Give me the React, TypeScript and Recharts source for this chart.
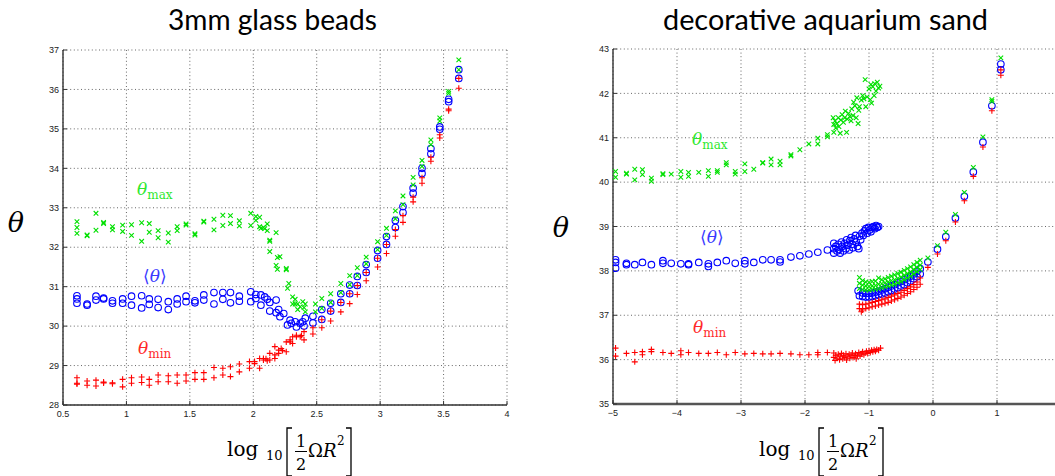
import React from "react";
import { ScatterChart, Scatter, XAxis, YAxis, CartesianGrid } from "recharts";

const GREEN = "#00e000";
const BLUE = "#0000ff";
const RED = "#ff0000";
const GREEN_TEXT = "#2ee82e";
const BLUE_TEXT = "#3a3aff";
const RED_TEXT = "#ff2a2a";

type Pt = [number, number];

// ---- 3mm glass beads ----
const beadsXTicks = [0.5, 1, 1.5, 2, 2.5, 3, 3.5, 4];
const beadsYTicks = [28, 29, 30, 31, 32, 33, 34, 35, 36, 37];

const beadsMax: Pt[] = [
  [0.61, 32.65], [0.61, 32.5], [0.61, 32.35], [0.69, 32.31], [0.69, 32.29],
  [0.76, 32.86], [0.76, 32.43], [0.82, 32.63], [0.82, 32.6], [0.89, 32.52],
  [0.89, 32.44], [0.97, 32.56], [0.97, 32.4], [1.04, 32.57], [1.04, 32.3],
  [1.12, 32.62], [1.12, 32.15], [1.18, 32.6], [1.18, 32.38], [1.25, 32.42],
  [1.25, 32.24], [1.33, 32.36], [1.33, 32.13], [1.4, 32.52], [1.4, 32.42],
  [1.47, 32.59], [1.47, 32.56], [1.54, 32.34], [1.54, 32.31], [1.61, 32.66],
  [1.61, 32.64], [1.69, 32.71], [1.69, 32.44], [1.76, 32.81], [1.76, 32.55],
  [1.82, 32.8], [1.82, 32.6], [1.89, 32.67], [1.89, 32.54], [1.98, 32.86],
  [1.98, 32.55], [2.02, 32.78], [2.02, 32.68], [2.05, 32.76], [2.05, 32.52],
  [2.06, 32.48], [2.08, 32.5], [2.09, 32.47], [2.11, 32.59], [2.11, 32.42],
  [2.13, 32.18], [2.13, 32.15], [2.13, 31.89], [2.18, 32.37], [2.18, 31.54],
  [2.19, 31.44], [2.19, 31.74], [2.21, 31.76], [2.26, 31.46], [2.26, 31.43],
  [2.27, 30.96], [2.28, 31.08], [2.31, 30.74], [2.31, 30.56], [2.33, 30.68],
  [2.33, 30.56], [2.35, 30.56], [2.35, 30.42], [2.37, 30.49], [2.39, 30.62],
  [2.4, 30.47], [2.41, 30.56], [2.41, 30.36], [2.49, 30.56], [2.49, 30.36],
];
const beadsMaxRise: Pt[] = [
  [2.54, 30.7], [2.54, 30.45], [2.61, 30.82], [2.61, 30.6], [2.69, 31.08],
  [2.69, 30.85], [2.76, 31.28], [2.76, 31.05], [2.82, 31.48], [2.82, 31.28],
  [2.89, 31.75], [2.89, 31.58], [2.98, 32.14], [2.98, 31.94], [3.05, 32.48],
  [3.05, 32.3], [3.12, 32.92], [3.12, 32.72], [3.18, 33.3], [3.18, 33.08],
  [3.26, 33.77], [3.26, 33.58], [3.33, 34.2], [3.33, 34.05], [3.4, 34.72],
  [3.4, 34.6], [3.47, 35.28], [3.47, 35.2], [3.54, 35.95], [3.54, 35.9],
  [3.62, 36.75], [3.62, 36.5],
];

const beadsMean: Pt[] = [
  [0.61, 30.77], [0.61, 30.69], [0.61, 30.58], [0.69, 30.56], [0.69, 30.53],
  [0.76, 30.76], [0.76, 30.66], [0.82, 30.71], [0.82, 30.69], [0.89, 30.64],
  [0.89, 30.58], [0.97, 30.69], [0.97, 30.58], [1.04, 30.76], [1.04, 30.53],
  [1.12, 30.77], [1.12, 30.46], [1.18, 30.69], [1.18, 30.55], [1.25, 30.68],
  [1.25, 30.47], [1.33, 30.62], [1.33, 30.42], [1.4, 30.69], [1.4, 30.56],
  [1.47, 30.76], [1.47, 30.62], [1.54, 30.64], [1.54, 30.59], [1.61, 30.79],
  [1.61, 30.66], [1.69, 30.85], [1.69, 30.56], [1.76, 30.85], [1.76, 30.68],
  [1.82, 30.85], [1.82, 30.59], [1.89, 30.76], [1.89, 30.63], [1.98, 30.87],
  [1.98, 30.62], [2.02, 30.8], [2.02, 30.7], [2.06, 30.79], [2.06, 30.53],
  [2.09, 30.74], [2.11, 30.68], [2.13, 30.38], [2.13, 30.6], [2.18, 30.66],
  [2.18, 30.34], [2.2, 30.42], [2.21, 30.24], [2.24, 30.32], [2.27, 30.03],
  [2.29, 30.15], [2.3, 30.07], [2.33, 30.11], [2.34, 29.98], [2.37, 30.07],
  [2.39, 30.11], [2.4, 30.0], [2.41, 30.2], [2.47, 30.25], [2.47, 30.08],
];
const beadsMeanRise: Pt[] = [
  [2.54, 30.42], [2.54, 30.17], [2.61, 30.58], [2.61, 30.38], [2.69, 30.82],
  [2.69, 30.6], [2.76, 31.04], [2.76, 30.82], [2.82, 31.26], [2.82, 31.03],
  [2.89, 31.56], [2.89, 31.36], [2.98, 31.92], [2.98, 31.72], [3.05, 32.27],
  [3.05, 32.07], [3.12, 32.68], [3.12, 32.5], [3.18, 33.03], [3.18, 32.88],
  [3.26, 33.5], [3.26, 33.37], [3.33, 34.0], [3.33, 33.87], [3.4, 34.5],
  [3.4, 34.37], [3.47, 35.05], [3.47, 34.99], [3.54, 35.75], [3.54, 35.69],
  [3.62, 36.5], [3.62, 36.28],
];

const beadsMin: Pt[] = [
  [0.61, 28.69], [0.61, 28.55], [0.61, 28.53], [0.69, 28.61], [0.69, 28.5],
  [0.76, 28.63], [0.76, 28.48], [0.82, 28.58], [0.82, 28.56], [0.89, 28.56],
  [0.89, 28.54], [0.97, 28.65], [0.97, 28.46], [1.04, 28.69], [1.04, 28.55],
  [1.12, 28.71], [1.12, 28.57], [1.18, 28.65], [1.18, 28.5], [1.25, 28.76],
  [1.25, 28.59], [1.33, 28.74], [1.33, 28.59], [1.4, 28.76], [1.4, 28.55],
  [1.47, 28.76], [1.47, 28.61], [1.54, 28.82], [1.54, 28.65], [1.61, 28.82],
  [1.61, 28.65], [1.69, 28.95], [1.69, 28.69], [1.76, 28.93], [1.76, 28.76],
  [1.82, 28.97], [1.82, 28.72], [1.89, 29.04], [1.89, 28.84], [1.97, 29.1],
  [1.97, 28.93], [2.01, 29.1], [2.01, 29.05], [2.05, 29.18], [2.05, 28.93],
  [2.08, 29.18], [2.08, 29.14], [2.1, 29.17], [2.11, 29.12], [2.13, 29.31],
  [2.13, 29.14], [2.17, 29.48], [2.17, 29.27], [2.17, 29.18], [2.2, 29.39],
  [2.2, 29.31], [2.22, 29.43], [2.23, 29.38], [2.26, 29.6], [2.26, 29.35],
  [2.29, 29.65], [2.29, 29.6], [2.31, 29.73], [2.31, 29.56], [2.34, 29.77],
  [2.34, 29.73], [2.37, 29.73], [2.38, 29.76], [2.4, 29.86], [2.4, 29.65],
];
const beadsMinRise: Pt[] = [
  [2.47, 29.96], [2.47, 29.8], [2.54, 30.16], [2.54, 29.96], [2.61, 30.38],
  [2.61, 30.13], [2.69, 30.6], [2.69, 30.36], [2.76, 30.82], [2.76, 30.57],
  [2.82, 31.03], [2.82, 30.8], [2.89, 31.36], [2.89, 31.15], [2.98, 31.72],
  [2.98, 31.5], [3.05, 32.07], [3.05, 31.84], [3.12, 32.45], [3.12, 32.28],
  [3.18, 32.8], [3.18, 32.63], [3.26, 33.27], [3.26, 33.15], [3.33, 33.76],
  [3.33, 33.62], [3.4, 34.28], [3.4, 34.18], [3.47, 34.85], [3.47, 34.77],
  [3.54, 35.5], [3.54, 35.46], [3.62, 36.28], [3.62, 36.03],
];

// ---- decorative aquarium sand ----
// the axis runs on to 2, just past the picture's right edge
const sandXTicks = [-5, -4, -3, -2, -1, 0, 1];
const sandYTicks = [35, 36, 37, 38, 39, 40, 41, 42, 43];

const sandMaxSlow: Pt[] = [
  [-4.96, 40.24], [-4.96, 40.11], [-4.79, 40.2], [-4.79, 40.18], [-4.66, 40.29],
  [-4.66, 40.05], [-4.54, 40.28], [-4.54, 40.17], [-4.4, 40.09], [-4.4, 40.02],
  [-4.22, 40.19], [-4.22, 40.17], [-4.09, 40.18], [-3.94, 40.24], [-3.94, 40.11],
  [-3.82, 40.22], [-3.82, 40.13], [-3.66, 40.22], [-3.51, 40.26], [-3.51, 40.13],
  [-3.37, 40.26], [-3.37, 40.22], [-3.23, 40.44], [-3.23, 40.39], [-3.09, 40.24],
  [-3.09, 40.18], [-2.94, 40.41], [-2.94, 40.24], [-2.8, 40.29], [-2.66, 40.44],
  [-2.66, 40.43], [-2.53, 40.52], [-2.53, 40.39], [-2.39, 40.47], [-2.39, 40.39],
  [-2.22, 40.62], [-2.22, 40.59], [-2.08, 40.73], [-1.94, 40.86], [-1.8, 40.99],
  [-1.8, 40.86], [-1.65, 41.07], [-1.65, 41.02],
];
const sandMaxCluster: Pt[] = [
  [-1.56, 41.45], [-1.55, 41.3], [-1.55, 41.12], [-1.53, 41.38], [-1.52, 41.22],
  [-1.5, 41.32], [-1.48, 41.45], [-1.47, 41.25], [-1.45, 41.1], [-1.44, 41.4],
  [-1.42, 41.52], [-1.4, 41.35], [-1.38, 41.45], [-1.37, 41.6], [-1.35, 41.12],
  [-1.34, 41.42], [-1.32, 41.55], [-1.3, 41.48], [-1.28, 41.38], [-1.27, 41.65],
  [-1.25, 41.5], [-1.24, 41.8], [-1.22, 41.72], [-1.2, 41.45], [-1.19, 41.9],
  [-1.17, 41.32], [-1.16, 41.62], [-1.15, 41.7], [-1.12, 41.85], [-1.1, 41.95],
  [-1.08, 41.88], [-1.06, 42.31], [-1.05, 41.7], [-1.03, 41.92], [-1.0, 42.1],
  [-0.98, 41.86], [-0.97, 42.2], [-0.96, 41.78], [-0.94, 42.15], [-0.92, 41.95],
  [-0.91, 42.22], [-0.89, 42.05], [-0.87, 42.25], [-0.85, 42.12], [-0.83, 42.16],
];
const sandMaxBand: Pt[] = [
  [-1.15, 37.85], [-1.15, 37.72], [-1.15, 37.6], [-1.1, 37.78], [-1.1, 37.68],
  [-1.1, 37.58], [-1.05, 37.75], [-1.05, 37.66], [-1.05, 37.57], [-1.0, 37.74],
  [-1.0, 37.65], [-1.0, 37.57], [-0.95, 37.76], [-0.95, 37.66], [-0.95, 37.58],
  [-0.9, 37.77], [-0.9, 37.67], [-0.9, 37.59], [-0.85, 37.84], [-0.85, 37.7],
  [-0.85, 37.6], [-0.8, 37.8], [-0.8, 37.71], [-0.8, 37.62], [-0.75, 37.82],
  [-0.75, 37.73], [-0.75, 37.64], [-0.7, 37.85], [-0.7, 37.75], [-0.7, 37.66],
  [-0.65, 37.88], [-0.65, 37.78], [-0.65, 37.68], [-0.6, 37.91], [-0.6, 37.8],
  [-0.6, 37.7], [-0.55, 37.94], [-0.55, 37.83], [-0.55, 37.73], [-0.5, 37.97],
  [-0.5, 37.86], [-0.5, 37.76], [-0.45, 38.01], [-0.45, 37.9], [-0.45, 37.8],
  [-0.4, 38.05], [-0.4, 37.94], [-0.4, 37.84], [-0.35, 38.09], [-0.35, 37.98],
  [-0.35, 37.88], [-0.3, 38.14], [-0.3, 38.03], [-0.3, 37.93], [-0.25, 38.19],
  [-0.25, 38.08], [-0.25, 37.98], [-0.2, 38.24], [-0.2, 38.13], [-0.2, 38.03],
];
const sandMaxFast: Pt[] = [
  [-0.08, 38.29], [0.07, 38.57], [0.2, 38.87], [0.35, 39.27], [0.49, 39.77],
  [0.63, 40.33], [0.78, 41.02], [0.92, 41.86], [0.92, 41.82], [1.06, 42.8],
];

const sandMeanSlow: Pt[] = [
  [-4.96, 38.25], [-4.96, 38.19], [-4.96, 38.06], [-4.79, 38.17], [-4.79, 38.14],
  [-4.66, 38.14], [-4.54, 38.19], [-4.4, 38.14], [-4.22, 38.23], [-4.22, 38.17],
  [-4.09, 38.17], [-3.94, 38.16], [-3.82, 38.16], [-3.82, 38.14], [-3.66, 38.19],
  [-3.51, 38.16], [-3.51, 38.1], [-3.37, 38.19], [-3.23, 38.23], [-3.09, 38.17],
  [-2.94, 38.23], [-2.94, 38.16], [-2.8, 38.19], [-2.66, 38.25], [-2.53, 38.25],
  [-2.39, 38.25], [-2.39, 38.2], [-2.22, 38.31], [-2.08, 38.34], [-1.94, 38.38],
  [-1.8, 38.42], [-1.65, 38.47],
];
const sandMeanCluster: Pt[] = [
  [-1.55, 38.62], [-1.55, 38.5], [-1.55, 38.4], [-1.52, 38.55], [-1.5, 38.45],
  [-1.48, 38.6], [-1.47, 38.48], [-1.45, 38.4], [-1.43, 38.65], [-1.42, 38.55],
  [-1.4, 38.45], [-1.38, 38.62], [-1.36, 38.5], [-1.35, 38.7], [-1.33, 38.58],
  [-1.31, 38.47], [-1.3, 38.68], [-1.28, 38.75], [-1.26, 38.6], [-1.25, 38.52],
  [-1.23, 38.72], [-1.21, 38.8], [-1.2, 38.65], [-1.18, 38.55], [-1.16, 38.5],
  [-1.15, 38.78], [-1.13, 38.7], [-1.11, 38.85], [-1.09, 38.8], [-1.07, 38.9],
  [-1.05, 38.95], [-1.03, 38.85], [-1.01, 38.98], [-0.99, 38.92], [-0.97, 38.88],
  [-0.95, 38.98], [-0.93, 39.0], [-0.91, 38.95], [-0.89, 39.02], [-0.87, 38.98],
  [-0.85, 39.0],
];
const sandMeanBand: Pt[] = [
  [-1.17, 37.55], [-1.15, 37.44], [-1.1, 37.5], [-1.1, 37.42], [-1.05, 37.49],
  [-1.05, 37.41], [-1.0, 37.49], [-1.0, 37.41], [-0.95, 37.5], [-0.95, 37.42],
  [-0.9, 37.52], [-0.9, 37.44], [-0.85, 37.54], [-0.85, 37.46], [-0.8, 37.57],
  [-0.8, 37.48], [-0.75, 37.6], [-0.75, 37.5], [-0.7, 37.63], [-0.7, 37.53],
  [-0.65, 37.66], [-0.65, 37.56], [-0.6, 37.69], [-0.6, 37.59], [-0.55, 37.73],
  [-0.55, 37.62], [-0.5, 37.76], [-0.5, 37.66], [-0.45, 37.8], [-0.45, 37.69],
  [-0.4, 37.84], [-0.4, 37.73], [-0.35, 37.88], [-0.35, 37.77], [-0.3, 37.93],
  [-0.3, 37.82], [-0.25, 37.99], [-0.25, 37.87], [-0.2, 38.05], [-0.2, 37.93],
];
const sandMeanFast: Pt[] = [
  [-0.08, 38.2], [0.07, 38.49], [0.2, 38.77], [0.35, 39.19], [0.49, 39.68],
  [0.63, 40.23], [0.78, 40.9], [0.92, 41.72], [1.06, 42.66], [1.06, 42.53],
];

const sandMinSlow: Pt[] = [
  [-4.96, 36.26], [-4.96, 36.08], [-4.79, 36.14], [-4.66, 36.16], [-4.66, 35.95],
  [-4.54, 36.18], [-4.54, 36.11], [-4.4, 36.23], [-4.4, 36.18], [-4.22, 36.16],
  [-4.09, 36.14], [-3.94, 36.2], [-3.94, 36.11], [-3.82, 36.16], [-3.66, 36.14],
  [-3.51, 36.14], [-3.37, 36.16], [-3.23, 36.11], [-3.09, 36.16], [-2.94, 36.13],
  [-2.8, 36.14], [-2.66, 36.13], [-2.53, 36.13], [-2.39, 36.14], [-2.22, 36.13],
  [-2.08, 36.11], [-1.94, 36.11], [-1.8, 36.16], [-1.8, 36.11], [-1.65, 36.16],
];
const sandMinCluster: Pt[] = [
  [-1.55, 36.15], [-1.55, 36.05], [-1.53, 35.98], [-1.52, 36.1], [-1.5, 36.03],
  [-1.48, 36.12], [-1.46, 36.0], [-1.45, 36.08], [-1.43, 36.14], [-1.41, 36.02],
  [-1.4, 36.1], [-1.38, 36.05], [-1.36, 36.13], [-1.35, 35.99], [-1.33, 36.08],
  [-1.31, 36.12], [-1.3, 36.03], [-1.28, 36.1], [-1.26, 36.15], [-1.25, 36.05],
  [-1.23, 36.09], [-1.21, 36.13], [-1.2, 36.02], [-1.18, 36.1], [-1.16, 36.16],
  [-1.14, 36.08], [-1.12, 36.13], [-1.1, 36.18], [-1.08, 36.11], [-1.06, 36.15],
  [-1.04, 36.19], [-1.02, 36.14], [-1.0, 36.2], [-0.98, 36.16], [-0.96, 36.21],
  [-0.94, 36.18], [-0.92, 36.22], [-0.9, 36.19], [-0.88, 36.23], [-0.85, 36.21],
  [-0.82, 36.26],
];
const sandMinBand: Pt[] = [
  [-1.15, 37.25], [-1.15, 37.15], [-1.12, 37.08], [-1.1, 37.24], [-1.1, 37.12],
  [-1.05, 37.25], [-1.05, 37.15], [-1.0, 37.27], [-1.0, 37.17], [-0.95, 37.29],
  [-0.95, 37.19], [-0.9, 37.31], [-0.9, 37.21], [-0.85, 37.33], [-0.85, 37.23],
  [-0.8, 37.35], [-0.8, 37.25], [-0.75, 37.37], [-0.75, 37.27], [-0.7, 37.4],
  [-0.7, 37.29], [-0.65, 37.43], [-0.65, 37.32], [-0.6, 37.46], [-0.6, 37.35],
  [-0.55, 37.49], [-0.55, 37.38], [-0.5, 37.52], [-0.5, 37.41], [-0.45, 37.56],
  [-0.45, 37.45], [-0.4, 37.6], [-0.4, 37.49], [-0.35, 37.64], [-0.35, 37.53],
  [-0.3, 37.69], [-0.3, 37.58], [-0.25, 37.75], [-0.25, 37.63], [-0.2, 37.84],
  [-0.2, 37.7],
];
const sandMinFast: Pt[] = [
  [-0.08, 38.08], [0.07, 38.38], [0.2, 38.68], [0.35, 39.1], [0.49, 39.58],
  [0.63, 40.13], [0.78, 40.79], [0.92, 41.61], [1.06, 42.53], [1.06, 42.41],
];

const toXY = (...parts: Pt[][]) =>
  parts.flat().map(([x, y]) => ({ x, y }));

// MATLAB style markers
function XMark(props: any) {
  const { cx, cy } = props;
  const s = 2.3;
  return (
    <path
      d={`M${cx - s},${cy - s}L${cx + s},${cy + s}M${cx - s},${cy + s}L${cx + s},${cy - s}`}
      stroke={GREEN}
      strokeWidth={1.1}
      fill="none"
    />
  );
}

function OMark(props: any) {
  const { cx, cy } = props;
  return <circle cx={cx} cy={cy} r={3.3} stroke={BLUE} strokeWidth={1.1} fill="none" />;
}

function PlusMark(props: any) {
  const { cx, cy } = props;
  const s = 3;
  return (
    <path
      d={`M${cx - s},${cy}L${cx + s},${cy}M${cx},${cy - s}L${cx},${cy + s}`}
      stroke={RED}
      strokeWidth={1.1}
      fill="none"
    />
  );
}

const tickStyle = { fontSize: 9, fill: "#222", fontFamily: "'Liberation Sans', Arial, sans-serif" };
const minusFmt = (v: number) => (v < 0 ? `\u2212${-v}` : `${v}`);

function XLabel({ dx }: { dx: number }) {
  const serif = "'DejaVu Serif', 'Liberation Serif', serif";
  return (
    <g transform={`translate(${dx},0)`} fontFamily={serif} fill="#000">
      <text x={227} y={456} fontSize={20}>log</text>
      <text x={266} y={460} fontSize={13}>10</text>
      <path d="M292,428H287V476H292" stroke="#000" strokeWidth={1.3} fill="none" />
      <text x={301} y={447} fontSize={16} textAnchor="middle">1</text>
      <line x1={295} x2={307} y1={451.5} y2={451.5} stroke="#000" strokeWidth={1} />
      <text x={301} y={470} fontSize={16} textAnchor="middle">2</text>
      <text x={308} y={457} fontSize={18}>
        Ω<tspan fontStyle="italic">R</tspan>
      </text>
      <text x={337} y={445} fontSize={12}>2</text>
      <path d="M346,428H351V476H346" stroke="#000" strokeWidth={1.3} fill="none" />
    </g>
  );
}

function Annot({ x, y, sub, color }: { x: number; y: number; sub?: string; color: string }) {
  const serif = "'DejaVu Serif', 'Liberation Serif', serif";
  if (!sub) {
    return (
      <text x={x} y={y} fill={color} fontFamily={serif} fontSize={17}>
        ⟨<tspan fontStyle="italic">θ</tspan>⟩
      </text>
    );
  }
  return (
    <text x={x} y={y} fill={color} fontFamily={serif} fontSize={17}>
      <tspan fontStyle="italic">θ</tspan>
      <tspan fontSize={12} dy={4}>{sub}</tspan>
    </text>
  );
}

export default function App() {
  const gridProps = { stroke: "#666", strokeDasharray: "1 2.6" };
  const axisLine = { stroke: "#333", strokeWidth: 1.4 };
  const tickLine = { stroke: "#333" };

  return (
    <div
      style={{
        position: "fixed",
        left: 0,
        top: 0,
        width: 1055,
        height: 476,
        overflow: "hidden",
        background: "#fff",
      }}
    >
      <div style={{ position: "absolute", left: 0, top: 0 }}>
        <ScatterChart width={530} height={476} margin={{ top: 50, right: 23, bottom: 0, left: 0 }}>
          <CartesianGrid {...gridProps} />
          <XAxis
            type="number"
            dataKey="x"
            domain={[0.5, 4]}
            ticks={beadsXTicks}
            height={71}
            tickSize={-4}
            tickMargin={10}
            tick={tickStyle}
            axisLine={axisLine}
            tickLine={tickLine}
            allowDataOverflow
          />
          <YAxis
            type="number"
            dataKey="y"
            domain={[28, 37]}
            ticks={beadsYTicks}
            width={63}
            tickSize={-4}
            tickMargin={8}
            tick={tickStyle}
            axisLine={axisLine}
            tickLine={tickLine}
            allowDataOverflow
          />
          <Scatter data={toXY(beadsMean, beadsMeanRise)} shape={OMark} isAnimationActive={false} />
          <Scatter data={toXY(beadsMax, beadsMaxRise)} shape={XMark} isAnimationActive={false} />
          <Scatter data={toXY(beadsMin, beadsMinRise)} shape={PlusMark} isAnimationActive={false} />
        </ScatterChart>
      </div>

      <div style={{ position: "absolute", left: 530, top: 0 }}>
        <ScatterChart width={541} height={476} margin={{ top: 49, right: 10, bottom: 0, left: 0 }}>
          <CartesianGrid {...gridProps} />
          <XAxis
            type="number"
            dataKey="x"
            domain={[-5, 2]}
            ticks={sandXTicks}
            tickFormatter={minusFmt}
            height={72}
            tickSize={-4}
            tickMargin={10}
            tick={tickStyle}
            axisLine={{ stroke: "#555", strokeWidth: 2.6 }}
            tickLine={tickLine}
            allowDataOverflow
          />
          <YAxis
            type="number"
            dataKey="y"
            domain={[35, 43]}
            ticks={sandYTicks}
            width={83}
            tickSize={-4}
            tickMargin={8}
            tick={tickStyle}
            axisLine={axisLine}
            tickLine={tickLine}
            allowDataOverflow
          />
          <Scatter
            data={toXY(sandMeanSlow, sandMeanCluster, sandMeanBand, sandMeanFast)}
            shape={OMark}
            isAnimationActive={false}
          />
          <Scatter
            data={toXY(sandMaxSlow, sandMaxCluster, sandMaxBand, sandMaxFast)}
            shape={XMark}
            isAnimationActive={false}
          />
          <Scatter
            data={toXY(sandMinSlow, sandMinCluster, sandMinBand, sandMinFast)}
            shape={PlusMark}
            isAnimationActive={false}
          />
        </ScatterChart>
      </div>

      <svg
        width={1055}
        height={476}
        style={{ position: "absolute", left: 0, top: 0, pointerEvents: "none" }}
      >
        <g fontFamily="Lato, 'Open Sans', sans-serif" fontSize={29} fill="#000">
          <text x={168} y={30} textLength={209} lengthAdjust="spacingAndGlyphs">
            3mm glass beads
          </text>
          <text x={663} y={30} textLength={325} lengthAdjust="spacingAndGlyphs">
            decorative aquarium sand
          </text>
        </g>
        <g fontFamily="'DejaVu Serif', 'Liberation Serif', serif" fontStyle="italic" fontSize={27} textAnchor="middle">
          <text x={16} y={232}>θ</text>
          <text x={561} y={237}>θ</text>
        </g>
        <Annot x={137} y={195} sub="max" color={GREEN_TEXT} />
        <Annot x={143} y={282} color={BLUE_TEXT} />
        <Annot x={138} y={354} sub="min" color={RED_TEXT} />
        <Annot x={692} y={145} sub="max" color={GREEN_TEXT} />
        <Annot x={700} y={243} color={BLUE_TEXT} />
        <Annot x={693} y={333} sub="min" color={RED_TEXT} />
        <XLabel dx={0} />
        <XLabel dx={532} />
      </svg>
    </div>
  );
}
